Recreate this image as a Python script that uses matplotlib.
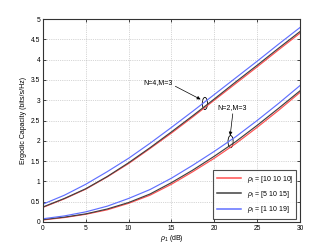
import matplotlib
matplotlib.use("Agg")
import matplotlib.pyplot as plt
from matplotlib.patches import Ellipse

snr = [0, 2.5, 5, 7.5, 10, 12.5, 15, 17.5, 20, 22.5, 25, 27.5, 30]
n4_red = [0.36, 0.57, 0.81, 1.11, 1.44, 1.81, 2.19, 2.59, 3.00, 3.41, 3.82, 4.24, 4.65]
n4_black = [0.37, 0.58, 0.82, 1.12, 1.46, 1.83, 2.22, 2.62, 3.03, 3.45, 3.86, 4.28, 4.69]
n4_blue = [0.44, 0.66, 0.93, 1.24, 1.57, 1.94, 2.33, 2.73, 3.14, 3.55, 3.96, 4.38, 4.79]
n2_red = [0.05, 0.11, 0.19, 0.30, 0.46, 0.66, 0.93, 1.24, 1.57, 1.93, 2.33, 2.75, 3.19]
n2_black = [0.06, 0.12, 0.20, 0.32, 0.48, 0.69, 0.97, 1.28, 1.62, 1.98, 2.38, 2.80, 3.23]
n2_blue = [0.08, 0.15, 0.25, 0.39, 0.58, 0.80, 1.08, 1.40, 1.74, 2.10, 2.50, 2.92, 3.36]
labels = [r'$\rho_\mathrm{I}$ = [10 10 10]', r'$\rho_\mathrm{I}$ = [5 10 15]', r'$\rho_\mathrm{I}$ = [1 10 19]']
xticks = [0, 5, 10, 15, 20, 25, 30]
yticks = [0, 0.5, 1, 1.5, 2, 2.5, 3, 3.5, 4, 4.5, 5]

plt.rcParams['font.family'] = ['Liberation Sans', 'DejaVu Sans']
plt.rcParams['mathtext.fontset'] = 'custom'
plt.rcParams['mathtext.rm'] = 'Liberation Sans'
plt.rcParams['mathtext.it'] = 'Liberation Sans:italic'

fig = plt.figure(figsize=(3.32, 2.5), dpi=100)
ax = fig.add_axes([0.1295, 0.112, 0.774, 0.812])

cr, ck, cb = '#ff5050', '#404040', '#6070ff'
lw = 0.85
ax.plot(snr, n4_red, color=cr, lw=lw, label=labels[0])
ax.plot(snr, n4_black, color=ck, lw=lw, label=labels[1])
ax.plot(snr, n4_blue, color=cb, lw=lw, label=labels[2])
ax.plot(snr, n2_red, color=cr, lw=lw)
ax.plot(snr, n2_black, color=ck, lw=lw)
ax.plot(snr, n2_blue, color=cb, lw=lw)

ax.set_xlim(0, 30)
ax.set_ylim(0, 5)
ax.set_xticks(xticks)
ax.set_yticks(yticks)
ax.set_xticklabels([str(v) for v in xticks])
ax.set_yticklabels(['0', '0.5', '1', '1.5', '2', '2.5', '3', '3.5', '4', '4.5', '5'])
ax.tick_params(direction='in', length=2, width=0.5, labelsize=4.8, pad=2,
               top=True, right=True)
ax.grid(True, linestyle=':', linewidth=0.5, color='#b0b0b0')
for s in ax.spines.values():
    s.set_linewidth(0.8)
    s.set_color('#333333')

ax.set_xlabel(r'$\rho_1$ (dB)', fontsize=5, labelpad=1)
ax.set_ylabel('Ergodic Capacity (bits/s/Hz)', fontsize=5, labelpad=3)

ax.add_patch(Ellipse((18.9, 2.92), 0.6, 0.3, fill=False, lw=0.6, color='k'))
ax.add_patch(Ellipse((21.9, 1.98), 0.6, 0.3, fill=False, lw=0.6, color='k'))
ax.annotate('N=4,M=3', xy=(18.4, 3.02), xytext=(11.7, 3.43), fontsize=5,
            va='center', ha='left',
            arrowprops=dict(arrowstyle='-|>', color='k', lw=0.5, mutation_scale=5,
                            shrinkA=0, shrinkB=0, relpos=(1.0, 0.2)))
ax.annotate('N=2,M=3', xy=(21.85, 2.13), xytext=(20.3, 2.82), fontsize=5,
            va='center', ha='left',
            arrowprops=dict(arrowstyle='-|>', color='k', lw=0.5, mutation_scale=5,
                            shrinkA=0, shrinkB=0, relpos=(0.55, 0.0)))

leg = ax.legend(loc='lower right', fontsize=5, frameon=True, fancybox=False,
                edgecolor='#222222', handlelength=3.5, borderpad=0.5,
                labelspacing=0.6, borderaxespad=0.5)
leg.get_frame().set_linewidth(0.8)
for line in leg.get_lines():
    line.set_linewidth(1.1)

fig.savefig('out.png', dpi=100)
